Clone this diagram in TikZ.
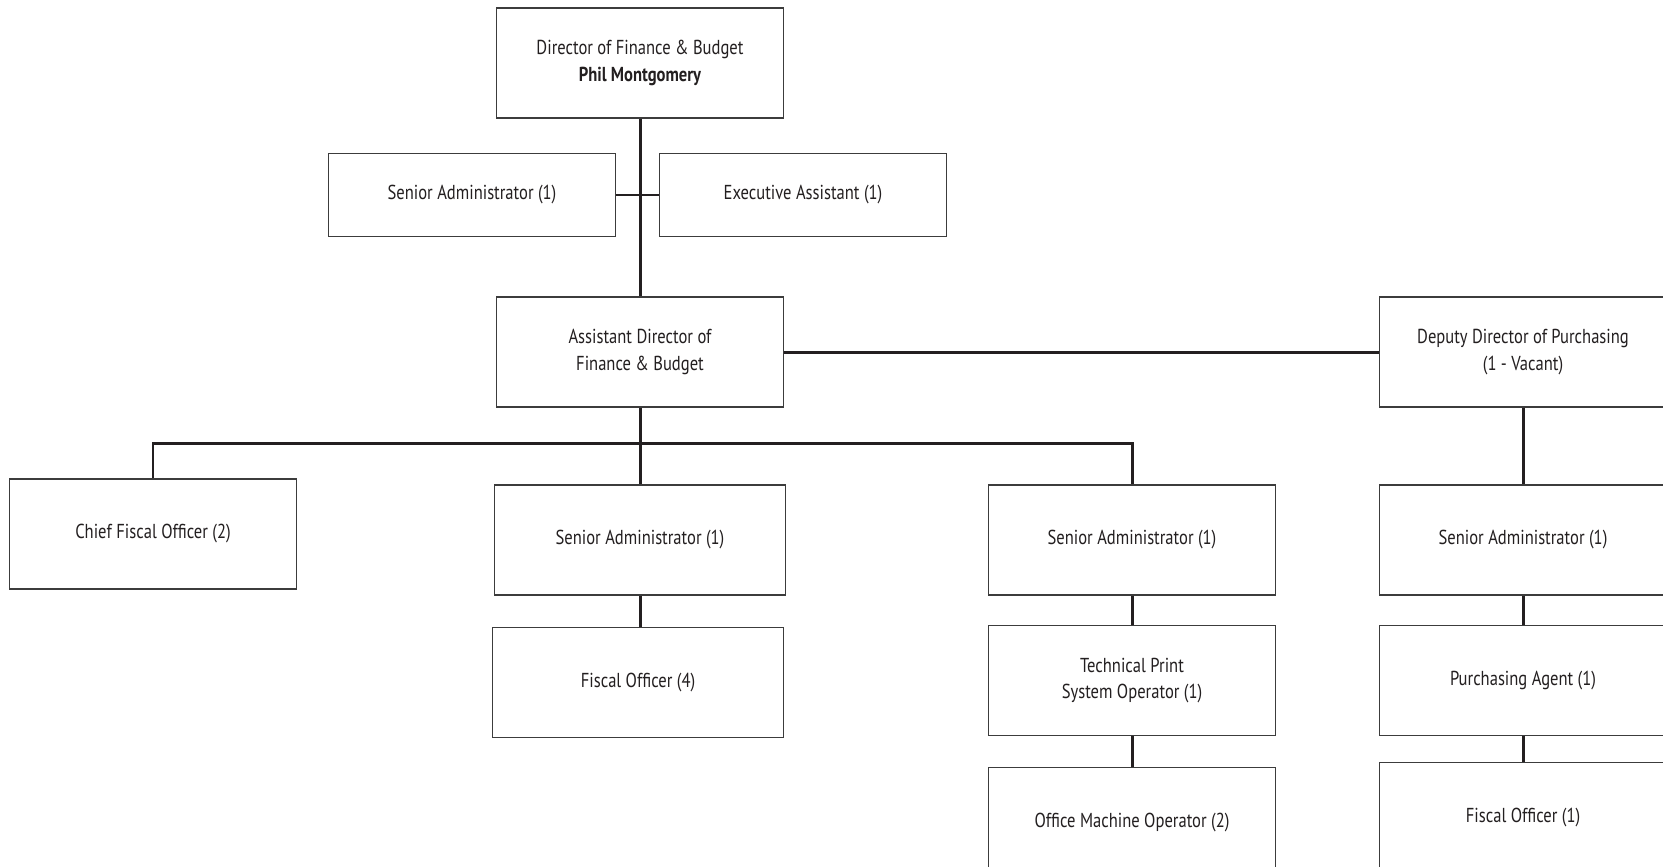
\documentclass[tikz,border=0pt]{standalone}
\usepackage{fontspec}
\setmainfont{PT Sans}[FakeStretch=0.82]
\usetikzlibrary{positioning}
\definecolor{ink}{HTML}{231F20}
\definecolor{frame}{HTML}{3C3C3C}

\begin{document}
\begin{tikzpicture}[x=0.02cm,y=-0.02cm,
  font=\fontsize{11.5}{15}\selectfont,
  node distance=0.6cm,
  post/.style={rectangle,draw=frame,line width=0.8pt,fill=white,text=ink,
    minimum width=5.74cm,minimum height=2.2cm,align=center,inner sep=2pt},
  side/.style={post,minimum height=1.66cm},
  link/.style={draw=ink,line width=1.7pt}]

\useasboundingbox[fill=white] (0,0) rectangle (1663,866);
\clip (0,0) rectangle (1663,866);

% top of the chart
\node[post] (dir) at (640,63) {Director of Finance \& Budget\\\textbf{Phil Montgomery}};
\node[side] (sadm) at (472,195) {Senior Administrator (1)};
\node[side] (exec) at (803,195) {Executive Assistant (1)};
\node[post] (adir) at (640,352) {Assistant Director of\\Finance \& Budget};
\node[post] (dep) at (1523,352) {Deputy Director of Purchasing\\(1 - Vacant)};

% second level
\node[post] (cfo) at (153,534) {Chief Fiscal Officer (2)};
\node[post,minimum width=5.82cm] (sa2) at (640,540) {Senior Administrator (1)};
\node[post,minimum width=5.82cm,below=0.62cm of sa2,xshift=-0.04cm] (fo4) {Fiscal Officer (4)};
\node[post] (sa3) at (1132,540) {Senior Administrator (1)};
\node[post,below=0.58cm of sa3] (tps) {Technical Print\\System Operator (1)};
\node[post,below=0.62cm of tps] (omo) {Office Machine Operator (2)};
\node[post] (sa4) at (1523,540) {Senior Administrator (1)};
\node[post,below=0.58cm of sa4] (pa) {Purchasing Agent (1)};
\node[post,below=0.52cm of pa] (fo1) {Fiscal Officer (1)};

\coordinate (bus) at (640,443);

\draw[link] (dir) -- (adir);
\draw[link] (sadm) -- (exec);
\draw[link] (adir) -- (dep);
\draw[link] (adir) -- (sa2);
\draw[link] (cfo.north) |- (bus) -| (sa3.north);
\draw[link] (sa2.south) -- (sa2.south |- fo4.north);
\draw[link] (sa3) -- (tps);
\draw[link] (tps) -- (omo);
\draw[link] (dep) -- (sa4);
\draw[link] (sa4) -- (pa);
\draw[link] (pa) -- (fo1);
\end{tikzpicture}
\end{document}
